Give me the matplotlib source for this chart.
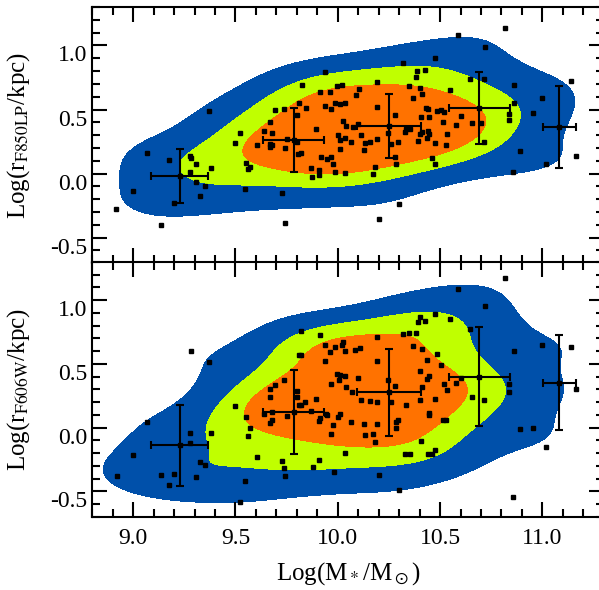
import matplotlib
matplotlib.use('Agg')
import numpy as np
import matplotlib.pyplot as plt
from matplotlib.ticker import MultipleLocator

plt.rcParams['font.family'] = ['Liberation Serif', 'DejaVu Serif']
plt.rcParams['mathtext.fontset'] = 'stix'

# galaxy stellar masses (same objects in both panels)
mass = [8.918, 8.997, 9.07, 9.134, 9.173, 9.20, 9.28, 9.285, 9.28, 9.305, 9.305, 9.326,
        9.349, 9.373, 9.378, 9.50, 9.52, 9.545, 9.549, 9.56, 9.57, 9.607, 9.637, 9.671,
        9.667, 9.67, 9.68, 9.68, 9.695, 9.739, 9.74, 9.725, 9.744, 9.75, 9.80, 9.80,
        9.806, 9.937, 9.824, 9.81, 9.843, 9.915, 9.964, 9.996, 10.02, 9.988, 10.01, 10.037,
        9.936, 9.969, 9.895, 9.82, 9.868, 9.876, 9.907, 9.907, 9.916, 9.946, 9.969, 9.979,
        9.985, 10.034, 9.999, 10.009, 10.013, 10.034, 10.027, 10.04, 10.063, 10.073, 10.087,
        10.105, 10.10, 10.111, 10.126, 10.131, 10.159, 10.18, 10.174, 10.19, 10.19, 10.193,
        10.20, 10.244, 10.262, 10.278, 10.281, 10.283, 10.296, 10.297, 10.317, 10.327,
        10.332, 10.354, 10.346, 10.37, 10.384, 10.389, 10.428, 10.40, 10.41, 10.405, 10.393,
        10.40, 10.41, 10.432, 10.439, 10.444, 10.442, 10.444, 10.437, 10.477, 10.459,
        10.477, 10.477, 10.486, 10.502, 10.517, 10.512, 10.535, 10.53, 10.546, 10.58,
        10.589, 10.60, 10.647, 10.657, 10.70, 10.716, 10.717, 10.72, 10.818, 10.838,
        10.838, 10.857, 10.862, 10.862, 10.892, 10.955, 10.999, 11.018, 11.14, 11.165]

size_f850 = [-0.28, -0.136, 0.16, -0.40, 0.105, -0.23, 0.14, 0.12, 0.01, 0.073, -0.068, -0.179,
             -0.097, 0.49, 0.042, 0.239, 0.32, -0.118, 0.081, 0.034, 0.05, 0.22, 0.333, 0.404,
             0.23, 0.21, 0.22, 0.317, 0.50, 0.506, -0.39, -0.15, 0.20, 0.27, 0.25, 0.457,
             0.155, 0.79, 0.688, 0.55, 0.514, 0.64, 0.64, 0.685, 0.693, 0.551, 0.546, 0.554,
             0.528, 0.504, 0.349, 0.16, 0.042, -0.029, 0.024, -0.013, 0.128, 0.113, 0.128, 0.071,
             0.008, 0.003, 0.30, 0.19, 0.262, 0.28, 0.41, 0.37, 0.247, 0.365, 0.614,
             0.66, 0.386, 0.30, 0.18, 0.239, 0.247, 0.05, 0.0, 0.52, 0.273, 0.716,
             -0.354, 0.317, 0.23, 0.457, 0.128, 0.073, 0.246, -0.24, 0.86, 0.325,
             0.349, 0.349, 0.685, 0.59, 0.756, 0.803, 0.811, 0.67, 0.62, 0.44, 0.252,
             0.31, 0.325, 0.514, 0.504, 0.44, 0.33, 0.31, 0.278, 0.236, 0.12,
             0.071, 0.90, 0.49, 0.498, 0.48, 0.404, 0.31, 0.22, 0.654, 0.38,
             1.08, 0.45, 0.735, 0.396, 0.396, 0.735, 0.244, 0.987, 1.136, 0.467,
             0.42, 0.01, 0.693, 0.554, 0.176, 0.475, 0.593, 0.073, 0.72, 0.136]

mass_606 = [8.919, 8.997, 9.07, 9.134, 9.173, 9.20, 9.28, 9.28, 9.285, 9.305, 9.326, 9.349,
            9.373, 9.378, 9.50, 9.52, 9.545, 9.549, 9.56, 9.57, 9.607, 9.637, 9.671, 9.671,
            9.667, 9.68, 9.68, 9.695, 9.725, 9.739, 9.739, 9.744, 9.75, 9.80, 9.80, 9.81,
            9.812, 9.822, 9.819, 9.842, 9.895, 9.868, 9.822, 9.915, 9.936, 9.936, 9.964,
            9.988, 10.02, 10.027, 10.034, 10.086, 10.107, 9.944, 9.949, 9.915, 9.907, 9.969,
            9.969, 9.979, 9.998, 10.009, 10.037, 10.006, 9.999, 10.009, 10.04, 10.034, 10.063,
            9.983, 9.907, 9.878, 10.071, 10.10, 10.111, 10.126, 10.131, 10.159, 10.174, 10.18,
            10.19, 10.193, 10.19, 10.193, 10.20, 10.244, 10.262, 10.278, 10.284, 10.283,
            10.296, 10.297, 10.317, 10.346, 10.384, 10.332, 10.327, 10.354, 10.37, 10.39,
            10.40, 10.428, 10.41, 10.40, 10.40, 10.405, 10.41, 10.437, 10.444, 10.434, 10.444,
            10.444, 10.439, 10.459, 10.477, 10.477, 10.477, 10.486, 10.502, 10.512, 10.53,
            10.518, 10.535, 10.546, 10.58, 10.589, 10.60, 10.647, 10.657, 10.716, 10.72,
            10.818, 10.838, 10.838, 10.857, 10.862, 10.892, 10.955, 10.999, 11.018, 11.14, 11.165]

size_f606 = [-0.378, -0.218, 0.042, -0.37, -0.454, -0.36, -0.045, -0.124, 0.60, -0.386, -0.273, -0.297,
             0.514, -0.045, 0.168, -0.58, -0.415, 0.081, -0.068, -0.005, -0.234, 0.108, 0.305, 0.239,
             0.034, 0.063, 0.12, 0.333, -0.265, 0.37, -0.32, -0.383, 0.089, 0.29, 0.239, 0.567,
             0.18, 0.567, 0.18, 0.205, 0.223, 0.134, 0.758, 0.724, 0.651, 0.522, 0.593,
             0.635, 0.651, 0.675, 0.604, 0.609, 0.624, 0.108, 0.102, 0.073, 0.053, 0.339,
             -0.052, 0.018, 0.417, 0.412, 0.404, 0.372, 0.084, 0.11, 0.317, -0.202, 0.047,
             -0.349, -0.255, -0.305, 0.276, 0.388, 0.215, 0.031, -0.06, 0.207, -0.052, -0.115,
             0.522, 0.20, 0.026, 0.709, -0.368, 0.372, 0.202, 0.325, 0.042, -0.005,
             0.057, -0.486, 0.735, 0.74, 0.745, 0.176, -0.21, -0.21, 0.64, 0.83,
             0.866, 0.837, 0.614, 0.22, 0.443, -0.102, 0.315, 0.53, 0.404, 0.38, 0.113,
             0.097, -0.21, -0.21, -0.173, 0.223, 0.892, 0.575, 0.488, 0.057, 0.063,
             0.339, 0.294, 0.85, 0.349, 1.089, 0.391, 0.772, 0.239, 0.215, 0.955,
             1.173, 0.339, 0.276, -0.543, 0.601, -0.013, -0.005, 0.648, -0.15, 0.632, 0.302]

# binned medians with errors
bin_mass = [9.227, 9.785, 10.252, 10.692, 11.082]
bin_xerr = [0.14, 0.15, 0.157, 0.15, 0.08]
bin_f850 = [-0.02, 0.264, 0.372, 0.514, 0.365]
bin_f850_err = [0.21, 0.25, 0.25, 0.28, 0.32]
bin_f606 = [-0.14, 0.121, 0.278, 0.40, 0.354]
bin_f606_err = [0.32, 0.33, 0.34, 0.39, 0.37]

levels_frac = [0.12, 0.33, 0.55]
colors = ['#0050AA', '#C0FF00', '#FF7200']


def density(xs, ys, gx, gy, hx=0.23, hy=0.15):
    xs = np.asarray(xs)
    ys = np.asarray(ys)
    dx = (gx[..., None] - xs) / hx
    dy = (gy[..., None] - ys) / hy
    return np.exp(-0.5 * (dx ** 2 + dy ** 2)).sum(-1)


def panel(ax, xs, ys, by, byerr, ylab):
    gx, gy = np.meshgrid(np.linspace(8.6, 11.6, 300), np.linspace(-1.0, 1.6, 240))
    z = density(xs, ys, gx, gy)
    z = z / z.max()
    ax.contourf(gx, gy, z, levels=levels_frac + [1.01], colors=colors, zorder=1)
    ax.plot(xs, ys, 's', color='black', ms=3, zorder=3)
    ax.errorbar(bin_mass, by, xerr=bin_xerr, yerr=byerr, fmt='s', ms=3.5, color='black',
                ecolor='black', elinewidth=1.5, capsize=3, capthick=1.5, zorder=4)
    ax.set_xlim(8.8, 11.3)
    ax.set_ylim(-0.7, 1.3)
    ax.xaxis.set_major_locator(MultipleLocator(0.5))
    ax.xaxis.set_minor_locator(MultipleLocator(0.1))
    ax.yaxis.set_major_locator(MultipleLocator(0.5))
    ax.yaxis.set_minor_locator(MultipleLocator(0.1))
    ax.tick_params(which='both', direction='in', top=True, right=True, width=1.5, labelsize=17)
    ax.tick_params(which='major', length=11)
    ax.tick_params(which='minor', length=5.5)
    for s in ax.spines.values():
        s.set_linewidth(1.5)
    ax.yaxis.set_major_formatter(matplotlib.ticker.FuncFormatter(lambda v, p: '%.1f' % v))
    for lab in ax.get_yticklabels():
        lab.set_verticalalignment('top')
    ax.set_ylabel(ylab, fontsize=18)
    ax.yaxis.set_label_coords(-0.118, 0.5)


fig = plt.figure(figsize=(5.99, 5.90), dpi=100)
ax1 = fig.add_axes([0.154, 0.554, 0.854, 0.434])
ax2 = fig.add_axes([0.154, 0.124, 0.854, 0.432])

panel(ax1, mass, size_f850, bin_f850, bin_f850_err, r'Log(r$_{\rm F850LP}$/kpc)')
panel(ax2, mass_606, size_f606, bin_f606, bin_f606_err, r'Log(r$_{\rm F606W}$/kpc)')
ax1.tick_params(labelbottom=False)
ax2.xaxis.set_major_formatter(matplotlib.ticker.FuncFormatter(lambda v, p: '%.1f' % v))
ax2.tick_params(axis='x', pad=8)
ax2.set_xlabel(r'Log(M$_*$/M$_\odot$)', fontsize=18, labelpad=8)

fig.savefig('out.png', dpi=100)
